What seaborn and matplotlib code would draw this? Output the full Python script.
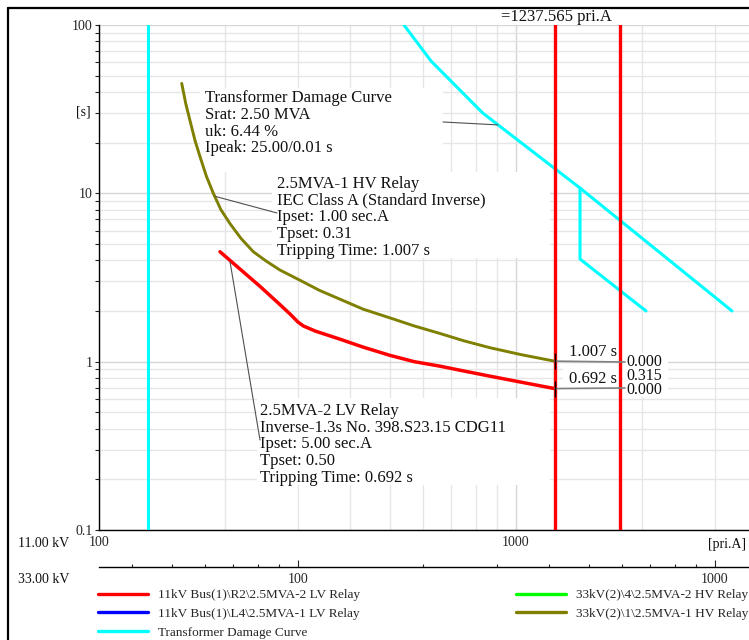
import matplotlib
matplotlib.use("Agg")
import matplotlib.pyplot as plt
import seaborn as sns
from matplotlib.lines import Line2D
from matplotlib.patches import Rectangle
from matplotlib.transforms import IdentityTransform
from matplotlib.ticker import FixedLocator, LogLocator, NullFormatter

# ---------------- data (currents in primary A referred to 11 kV, times in s) ----------------
fault_current = 1237.565
lv_highset_current = 1776.0
transformer_nominal_current = 131.2

lv_relay_current = [195.0, 215.0, 243.3, 268.0, 287.1, 300.0, 309.0, 330.0, 378.4,
                    430.0, 498.6, 570.0, 657.5, 750.0, 866.3, 1030.0, 1237.565]
lv_relay_time = [4.50, 3.65, 2.80, 2.25, 1.92, 1.72, 1.63, 1.52, 1.36,
                 1.22, 1.09, 1.00, 0.94, 0.88, 0.82, 0.755, 0.692]

hv_relay_current = [157.9, 161.5, 165.3, 170.0, 174.7, 181.0, 188.0, 196.0, 206.2,
                    219.0, 234.4, 252.0, 271.7, 303.0, 338.0, 378.4, 430.0, 498.6,
                    570.0, 657.5, 750.0, 866.3, 1030.0, 1237.565]
hv_relay_time = [45.0, 34.0, 27.0, 20.5, 16.5, 12.6, 10.0, 8.0, 6.6,
                 5.4, 4.5, 3.95, 3.50, 3.05, 2.65, 2.35, 2.05, 1.82,
                 1.63, 1.47, 1.33, 1.21, 1.10, 1.007]

damage_current = [538.6, 625.5, 832.0, 1424.0, 3296.0]
damage_time = [100.0, 61.1, 30.0, 10.75, 2.0]
damage_mech_current = [1424.0, 1424.0, 2050.0]
damage_mech_time = [10.75, 4.07, 2.0]

series_names = [
    "11kV Bus(1)\\R2\\2.5MVA-2 LV Relay",
    "11kV Bus(1)\\L4\\2.5MVA-1 LV Relay",
    "Transformer Damage Curve",
    "33kV(2)\\4\\2.5MVA-2 HV Relay",
    "33kV(2)\\1\\2.5MVA-1 HV Relay",
]
series_colors = ["#ff0000", "#0000ff", "#00ffff", "#00ff00", "#7f7f00"]

x_ticks = [100, 1000]
y_ticks = [0.1, 1, 10, 100]
y_tick_labels = ["0.1", "1", "10", "100"]
voltage_ratio = 33.0 / 11.0

# ---------------- figure ----------------
sns.set_style("white")
plt.rcParams["font.family"] = ["Liberation Serif", "DejaVu Serif"]

W, H = 749, 640
fig = plt.figure(figsize=(W / 100, H / 100), dpi=100)


def fx(px):
    return px / W


def fy(py):
    return 1 - py / H


ax = fig.add_axes([fx(99), fy(530), 650 / W, 505 / H])
ax.set_xscale("log")
ax.set_yscale("log")
x_max = 3620
ax.set_xlim(100, x_max)
ax.set_ylim(0.1, 100)

# grid
ax.xaxis.set_major_locator(FixedLocator(x_ticks))
ax.xaxis.set_minor_locator(LogLocator(base=10, subs=range(2, 10)))
ax.xaxis.set_minor_formatter(NullFormatter())
ax.set_xticklabels([str(v) for v in x_ticks])
ax.yaxis.set_major_locator(FixedLocator(y_ticks))
ax.yaxis.set_minor_locator(LogLocator(base=10, subs=range(2, 10)))
ax.yaxis.set_minor_formatter(NullFormatter())
ax.set_yticklabels(y_tick_labels)
ax.grid(True, which="major", color="#d6d6d6", lw=1.0)
ax.grid(True, which="minor", color="#e6e6e6", lw=1.0)
ax.set_axisbelow(True)

for side in ("top", "right"):
    ax.spines[side].set_visible(False)
for side in ("left", "bottom"):
    ax.spines[side].set_color("black")
    ax.spines[side].set_linewidth(1.0)

ax.tick_params(axis="x", which="both", length=0, pad=4, labelsize=10)
ax.tick_params(axis="y", which="both", direction="out", length=3, width=0.8,
               pad=1.5, labelsize=10, left=True)

# white panels behind the curve descriptions
pix = IdentityTransform()
for (x0, y0, x1, y1) in [(200, 88, 443, 172), (272, 172, 550, 258), (257, 398, 550, 485),
                         (563, 341, 621, 358), (563, 368, 621, 385), (623, 353, 668, 397)]:
    ax.add_patch(Rectangle((x0, H - y1), x1 - x0, y1 - y0, transform=pix,
                           facecolor="white", edgecolor="none", zorder=1))

# curves
ax.axvline(transformer_nominal_current, color=series_colors[2], lw=2.2, zorder=3)
sns.lineplot(x=damage_current, y=damage_time, color=series_colors[2], lw=2.2,
             estimator=None, sort=False, ax=ax, zorder=3)
sns.lineplot(x=damage_mech_current, y=damage_mech_time, color=series_colors[2], lw=2.2,
             estimator=None, sort=False, ax=ax, zorder=3)
sns.lineplot(x=hv_relay_current, y=hv_relay_time, color=series_colors[4], lw=2.1,
             estimator=None, sort=False, ax=ax, zorder=3)
sns.lineplot(x=lv_relay_current, y=lv_relay_time, color=series_colors[0], lw=2.5,
             estimator=None, sort=False, ax=ax, zorder=3)
ax.axvline(fault_current, color=series_colors[0], lw=2.4, zorder=3)
ax.axvline(lv_highset_current, color=series_colors[0], lw=2.4, zorder=3)

# tripping-time read-outs at the fault current
hv_t = hv_relay_time[-1]
lv_t = lv_relay_time[-1]
for t, py in ((hv_t, 362), (lv_t, 388)):
    ax.annotate("", xy=(fault_current, t), xycoords="data",
                xytext=(625, H - py), textcoords=pix,
                arrowprops=dict(arrowstyle="-", color="#808080", lw=1.2,
                                shrinkA=0, shrinkB=0), zorder=4)
    ax.plot([fault_current], [t], marker="|", ms=11, mew=1.0, color="black", zorder=5)

txt = dict(fontsize=12, color="#111111")
val = dict(fontsize=11.5, color="#111111")
fig.text(fx(617), fy(356), f"{hv_t:.3f} s", ha="right", va="baseline", **txt)
fig.text(fx(617), fy(383.3), f"{lv_t:.3f} s", ha="right", va="baseline", **txt)
fig.text(fx(626), fy(366.5), "0.000", ha="left", va="baseline", **val)
fig.text(fx(626), fy(380), f"{hv_t - lv_t:.3f}", ha="left", va="baseline", **val)
fig.text(fx(626), fy(394), "0.000", ha="left", va="baseline", **val)


def text_block(lines, x, baseline, step=16.7):
    for i, s in enumerate(lines):
        fig.text(fx(x), fy(baseline + i * step), s, ha="left", va="baseline", **txt)


text_block(["Transformer Damage Curve", "Srat: 2.50 MVA", "uk: 6.44 %",
            "Ipeak: 25.00/0.01 s"], 205, 102.3)
text_block(["2.5MVA-1 HV Relay", "IEC Class A (Standard Inverse)", "Ipset: 1.00 sec.A",
            "Tpset: 0.31", f"Tripping Time: {hv_t:.3f} s"], 277, 188)
text_block(["2.5MVA-2 LV Relay", "Inverse-1.3s No. 398.S23.15 CDG11", "Ipset: 5.00 sec.A",
            "Tpset: 0.50", f"Tripping Time: {lv_t:.3f} s"], 260, 415)

# leader lines from the descriptions to the curves
leader = dict(arrowstyle="-", color="#505050", lw=0.8, shrinkA=0, shrinkB=0)
ax.annotate("", xy=(905, 25.5), xycoords="data", xytext=(443, H - 122),
            textcoords=pix, arrowprops=leader, zorder=4)
ax.annotate("", xy=(189.8, 9.6), xycoords="data", xytext=(277, H - 213),
            textcoords=pix, arrowprops=leader, zorder=4)
ax.annotate("", xy=(206.2, 3.91), xycoords="data", xytext=(260, H - 440),
            textcoords=pix, arrowprops=leader, zorder=4)

# 33 kV current scale
ax33 = fig.add_axes([fx(99), fy(567), 650 / W, 1e-6])
ax33.set_xscale("log")
ax33.set_xlim(100 / voltage_ratio, x_max / voltage_ratio)
ax33.patch.set_visible(False)
ax33.grid(False)
ax33.set_yticks([])
for side in ("top", "left", "right"):
    ax33.spines[side].set_visible(False)
ax33.spines["bottom"].set_color("black")
ax33.spines["bottom"].set_linewidth(1.0)
ax33.xaxis.set_major_locator(FixedLocator(x_ticks))
ax33.set_xticklabels([str(v) for v in x_ticks])
ax33.xaxis.set_minor_locator(LogLocator(base=10, subs=range(2, 10)))
ax33.xaxis.set_minor_formatter(NullFormatter())
ax33.tick_params(axis="x", which="major", direction="in", length=5, width=0.8,
                 pad=4, labelsize=10, bottom=True)
ax33.tick_params(axis="x", which="minor", direction="in", length=2.5, width=0.8,
                 bottom=True)

# axis captions
small = dict(fontsize=10, color="#111111")
fig.text(fx(76), fy(115), "[s]", ha="left", va="baseline", **small)
fig.text(fx(708), fy(548), "[pri.A]", ha="left", va="baseline", **small)
fig.text(fx(18), fy(547), "11.00 kV", ha="left", va="baseline", **small)
fig.text(fx(18), fy(583), "33.00 kV", ha="left", va="baseline", **small)
fig.text(fx(501), fy(21), f"={fault_current:.3f} pri.A", ha="left", va="baseline",
         fontsize=12, color="#111111")

# legend
handles = [Line2D([], [], color=c, lw=2.4) for c in series_colors]
leg_kw = dict(frameon=False, fontsize=9.5, handlelength=3.8, handletextpad=0.76,
              labelspacing=0.5, borderpad=0, borderaxespad=0, loc="upper left",
              bbox_transform=fig.transFigure)
fig.legend(handles=handles[:3], labels=series_names[:3],
           bbox_to_anchor=(fx(98), fy(589)), **leg_kw)
fig.legend(handles=handles[3:], labels=series_names[3:],
           bbox_to_anchor=(fx(516), fy(589)), **leg_kw)

# outer frame of the plot window
fig.add_artist(Line2D([fx(8), fx(8)], [0, fy(8)], color="black", lw=1.6,
                      transform=fig.transFigure, zorder=10))
fig.add_artist(Line2D([fx(8), 1], [fy(8), fy(8)], color="black", lw=1.6,
                      transform=fig.transFigure, zorder=10))

fig.savefig("out.png", dpi=100)
